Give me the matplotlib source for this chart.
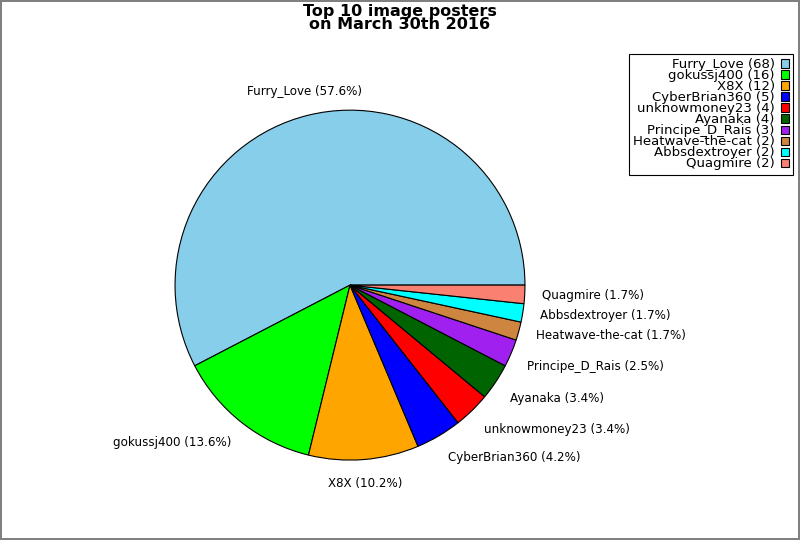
import math
import matplotlib
matplotlib.use("Agg")
import matplotlib.pyplot as plt

posters = ["Furry_Love", "gokussj400", "X8X", "CyberBrian360", "unknowmoney23",
           "Ayanaka", "Principe_D_Rais", "Heatwave-the-cat", "Abbsdextroyer", "Quagmire"]
counts = [68, 16, 12, 5, 4, 4, 3, 2, 2, 2]
colors = ["skyblue", "lime", "orange", "blue", "red",
          "darkgreen", "#a020f0", "peru", "cyan", "salmon"]

total = sum(counts)
pie_labels = ["%s (%.1f%%)" % (p, 100.0 * c / total) for p, c in zip(posters, counts)]
legend_labels = ["%s (%d)" % (p, c) for p, c in zip(posters, counts)]

fig = plt.figure(figsize=(8, 5.4), dpi=100)
fig.patch.set_edgecolor("gray")
fig.patch.set_linewidth(1.5)

ax = fig.add_axes([0.164, 0.067, 0.547, 0.81])
wedges, texts = ax.pie(counts, labels=pie_labels, colors=colors, startangle=0,
                       wedgeprops={"edgecolor": "black", "linewidth": 0.8},
                       textprops={"fontsize": 8.6})
ax.set_aspect("equal")

# compass style alignment of the labels (8 sectors)
lim = math.sin(math.radians(22.5))
for w, t in zip(wedges, texts):
    ang = math.radians((w.theta1 + w.theta2) / 2)
    c, s = math.cos(ang), math.sin(ang)
    if abs(c) < lim:
        t.set_ha("center")
    else:
        t.set_ha("left" if c > 0 else "right")
    if abs(s) < lim:
        t.set_va("center")
    else:
        t.set_va("bottom" if s > 0 else "top")

fig.suptitle("Top 10 image posters\non March 30th 2016", fontsize=11.5,
             fontweight="bold", y=0.993, linespacing=0.85)

leg = fig.legend(wedges, legend_labels, loc="upper right", bbox_to_anchor=(0.991, 0.9),
                 markerfirst=False, fontsize=9.5, labelspacing=-0.15, handlelength=0.55,
                 handleheight=0.6, handletextpad=0.5, fancybox=False, edgecolor="black",
                 framealpha=1, borderpad=0.32, borderaxespad=0)
for t in leg.get_texts():
    t.set_ha("right")
leg.get_frame().set_linewidth(0.8)

fig.savefig("out.png", dpi=100)
